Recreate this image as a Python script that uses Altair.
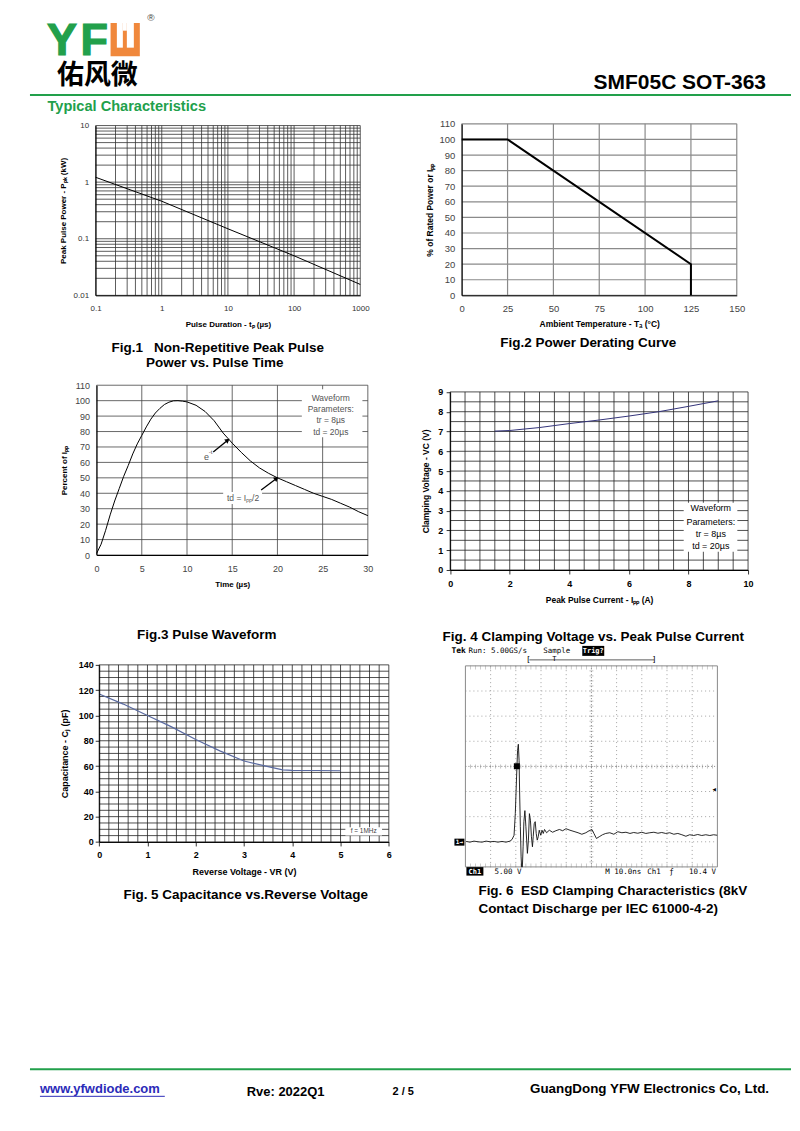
import altair as alt
import pandas as pd

FONT = "Liberation Sans"
CJK = "Noto Sans CJK SC"
MONO = "DejaVu Sans Mono"
GREEN = "#22a04b"
ORANGE = "#f0883c"
W, H = 784, 1115

# ---------------- Fig.1 data ----------------
f1_tp = [0.1, 1, 10, 100, 1000]
f1_ppk = [1.22, 0.46, 0.15, 0.05, 0.0156]
f1_x_grid = [round(m * 10.0 ** e, 6) for e in range(-1, 3) for m in range(1, 10)] + [1000]
f1_y_grid = [round(m * 10.0 ** e, 6) for e in range(-2, 1) for m in range(1, 10)] + [10]
f1_x_labels = [0.1, 1, 10, 100, 1000]
f1_y_labels = [0.01, 0.1, 1, 10]

# ---------------- Fig.2 data ----------------
f2_ta = [0, 25, 125, 125]
f2_pct = [100, 100, 20, 0]
f2_x_ticks = [0, 25, 50, 75, 100, 125, 150]
f2_y_ticks = [0, 10, 20, 30, 40, 50, 60, 70, 80, 90, 100, 110]

# ---------------- Fig.3 data ----------------
f3_t = [0, 0.5, 1, 1.5, 2, 2.5, 3, 3.5, 4, 4.5, 5, 5.5, 6, 6.5, 7, 7.5, 8, 8.5, 9, 9.5, 10,
        11, 12, 13, 14, 15, 16, 17, 18, 19, 20, 21, 22, 23, 24, 25, 26, 27, 28, 29, 30]
f3_pct = [1, 7, 16, 26, 35, 43, 51, 58, 65.5, 72, 77.5, 83, 88, 92, 95, 97.5, 99, 99.9, 100, 99.7, 99.2,
          97, 93, 87, 79, 72.5, 66.5, 61, 56.5, 53, 50, 47.5, 45, 42.5, 40, 38, 36, 33.5, 31, 28, 25.5]
f3_x_ticks = [0, 5, 10, 15, 20, 25, 30]
f3_y_ticks = [0, 10, 20, 30, 40, 50, 60, 70, 80, 90, 100, 110]
f3_note_text = ["Waveform", "Parameters:", "tr = 8µs", "td = 20µs"]
f3_note_x = [25.9, 25.9, 25.9, 25.9]
f3_note_y = [102, 94.5, 87.2, 79.6]
f3_box = {"x": [22.7, 14.0], "x2": [29.4, 18.3], "y": [76.3, 33.0], "y2": [107.4, 40.8]}
f3_arrow_id = [0, 0, 1, 1]
f3_arrow_t = [12.9, 14.5, 18.2, 19.9]
f3_arrow_p = [66.8, 74.4, 42.1, 49.6]

# ---------------- Fig.4 data ----------------
f4_ipp = [1.5, 2, 3, 4, 4.5, 5, 6, 7, 8, 9]
f4_vc = [7.02, 7.05, 7.2, 7.4, 7.49, 7.58, 7.78, 8.0, 8.27, 8.55]
f4_x_grid = [i * 0.5 for i in range(21)]
f4_y_grid = [i * 0.5 for i in range(19)]
f4_x_labels = [0, 2, 4, 6, 8, 10]
f4_y_labels = [0, 1, 2, 3, 4, 5, 6, 7, 8, 9]
f4_note_text = ["Waveform", "Parameters:", "tr = 8µs", "td = 20µs"]
f4_note_x = [8.75, 8.75, 8.75, 8.75]
f4_note_y = [3.13, 2.44, 1.8, 1.23]
f4_box = {"x": [7.84], "x2": [9.64], "y": [0.92], "y2": [3.4]}

# ---------------- Fig.5 data ----------------
f5_vr = [0, 0.5, 1, 1.5, 2, 2.5, 3, 3.5, 3.8, 4, 4.5, 5]
f5_cj = [117, 109, 100, 91, 81, 72, 64, 59.5, 57, 56.6, 56.5, 56.3]
f5_x_grid = [round(i * 0.2, 1) for i in range(31)]
f5_y_grid = [i * 5 for i in range(29)]
f5_x_labels = [0, 1, 2, 3, 4, 5, 6]
f5_y_labels = [0, 20, 40, 60, 80, 100, 120, 140]
f5_box = {"x": [5.1], "x2": [5.86], "y": [5.0], "y2": [11.6]}
f5_note_x = [5.48]
f5_note_y = [8.3]

# ---------------- Fig.6 data (scope: ns, V) ----------------
f6_t = [0.3, 1.8, 3.4, 5.0, 6.6, 8.2, 9.8, 11.4, 12.9, 14.5, 16.1, 17.7, 18.5, 19.3, 19.8, 20.3, 20.7,
        21.0, 21.3, 21.5, 21.8, 22.1, 22.3, 22.6, 22.9, 23.2, 23.6, 24.0, 24.6, 25.0, 25.4, 25.8, 26.2,
        26.6, 26.9, 27.3, 27.7, 28.1, 28.5, 28.9, 29.3, 29.9, 30.4, 30.9, 31.4, 32.2, 33.3, 34.6, 35.9,
        37.3, 38.6, 39.9, 41.5, 43.1, 44.7, 46.2, 47.8, 49.1, 50.2, 51.0, 52.0, 53.1, 54.4, 55.7, 57.3,
        58.9, 60.5, 62.1, 63.7, 65.3, 66.8, 68.4, 70.0, 71.6, 73.2, 74.8, 76.4, 77.9, 79.5, 81.1, 82.7,
        84.3, 85.9, 87.5, 89.0, 90.6, 92.2, 93.8, 95.4, 97.0, 98.5, 99.9]
f6_v = [0.07, -0.07, 0.13, 0.0, -0.07, 0.13, 0.0, 0.07, -0.07, 0.07, -0.07, 0.13, 0.46, 1.3, 5.6, 12.9, 18.2,
        19.4, 16.2, 10.3, 3.0, -3.0, -6.3, -5.6, -1.0, 4.0, 6.2, 3.0, -2.3, 0.33, 5.6, 4.3, 1.0,
        -1.0, 1.0, 3.6, 4.0, 1.66, 0.33, 1.0, 2.3, 1.3, 2.3, 1.66, 2.45, 1.8, 2.3, 1.9, 2.2,
        2.45, 2.2, 2.6, 2.3, 2.05, 1.8, 1.5, 1.8, 2.2, 2.45, 1.66, 0.66, 1.0, 1.4, 1.66, 1.8,
        1.5, 2.0, 1.8, 1.9, 1.66, 1.85, 1.7, 1.9, 1.66, 1.8, 1.9, 1.7, 1.85, 1.66, 1.8, 1.5,
        1.66, 1.4, 1.1, 1.4, 1.25, 1.45, 1.25, 1.4, 1.25, 1.4, 1.3]
f6_grid_t = [10, 20, 30, 40, 60, 70, 80, 90]
f6_grid_v = [0, 5, 10, 20, 25, 30]
f6_frame_t = [0, 100]
f6_frame_v = [-5, 35]
f6_center_t = [50]
f6_center_v = [15]
f6_minor_t = [i * 2 for i in range(1, 50)]
f6_minor_v = [i - 5 for i in range(1, 40)]

ONE = pd.DataFrame({"k": [0]})


# ---------------- helpers ----------------
def txt(text, x, y, size, weight="normal", color="black", align="left", baseline="middle", font=FONT,
        stroke=None):
    kw = dict(text=text, fontSize=size, fontWeight=weight, color=color, align=align,
              baseline=baseline, font=font)
    if stroke:
        kw.update(stroke=color, strokeWidth=stroke)
    return alt.Chart(ONE).mark_text(**kw).encode(x=alt.value(x), y=alt.value(y))


def prect(x, x2, y, y2, color):
    return alt.Chart(ONE).mark_rect(color=color).encode(
        x=alt.value(x), x2=alt.value(x2), y=alt.value(y), y2=alt.value(y2))


def prule(x, x2, y, color, width):
    return alt.Chart(ONE).mark_rule(color=color, strokeWidth=width).encode(
        x=alt.value(x), x2=alt.value(x2), y=alt.value(y))


def caption(text, x, y, align="center"):
    return txt(text, x, y, 13.5, weight="bold", align=align)


def mk_axis(orient, offset, title, values, label_size=9, label_color="#333", label_weight="normal",
            title_size=8, label_pad=8, title_pad=6, ticks=False, expr=None):
    kw = dict(orient=orient, offset=offset, values=values, grid=False, domainColor="black",
              domainWidth=1, labelFontSize=label_size, labelColor=label_color,
              labelFontWeight=label_weight, labelPadding=label_pad, labelOverlap=False,
              labelFlush=False, labelBound=False, title=title, titleFontSize=title_size,
              titleFontWeight="bold", titleColor="black", titlePadding=title_pad,
              labelFont=FONT, titleFont=FONT, zindex=2)
    if expr:
        kw["labelExpr"] = expr
    if ticks:
        kw.update(ticks=True, tickSize=4, tickColor="black", tickWidth=0.8)
    else:
        kw.update(ticks=False, tickSize=0)
    return alt.Axis(**kw)


def grid_layers(X, Y, xs, ys, xlo, xhi, ylo, yhi, color, width):
    v = alt.Chart(pd.DataFrame({"x": xs, "y": [ylo] * len(xs), "y2": [yhi] * len(xs)})).mark_rule(
        color=color, strokeWidth=width).encode(x=X, y=Y, y2="y2:Q")
    h = alt.Chart(pd.DataFrame({"y": ys, "x": [xlo] * len(ys), "x2": [xhi] * len(ys)})).mark_rule(
        color=color, strokeWidth=width).encode(y=Y, x=X, x2="x2:Q")
    return [v, h]


# ---------------- page header / footer ----------------
header_layers = [
    txt("Y", 54, 46.2, 45, weight="bold", color=GREEN, align="center", baseline="alphabetic", stroke=1.2),
    txt("F", 72.5, 46.2, 45, weight="bold", color=GREEN, baseline="alphabetic", stroke=1.2),
    prect(102.7, 132, 14.3, 47.7, ORANGE),
    prect(109, 115, 14.3, 39, "white"),
    prect(119, 126, 14.3, 39, "white"),
    prect(115, 119, 14.3, 22, "white"),
    txt("®", 143, 9, 10, color="#444", align="center"),
    txt("佑风微", 89.5, 67.5, 27, weight="bold", align="center", font=CJK),
    prule(22, 784, 86.5, GREEN, 2),
    txt("SMF05C SOT-363", 759, 80.3, 21, weight="bold", align="right", baseline="alphabetic"),
    txt("Typical Characteristics", 39.5, 98.7, 14.6, weight="bold", color=GREEN),
    prule(22, 784, 1062, GREEN, 2),
    txt("www.yfwdiode.com", 32, 1082, 13, weight="bold", color="#2b2bb8"),
    prule(32, 157, 1089, "#2b2bb8", 1),
    txt("Rve: 2022Q1", 239, 1085, 13, weight="bold"),
    txt("2 / 5", 385, 1085, 11, weight="bold"),
    txt("GuangDong YFW Electronics Co, Ltd.", 762, 1082, 13.4, weight="bold", align="right"),
]

# ---------------- Fig.1 ----------------
r1x, r1y = [87.7, 352.7], [287, 117]
X1 = alt.X("x:Q", scale=alt.Scale(type="log", domain=[0.1, 1000], range=r1x, nice=False),
           axis=mk_axis("bottom", r1y[0] - H, "Pulse Duration - tₚ (µs)", f1_x_labels, label_size=8,
                        label_pad=9, title_pad=8, expr="'' + datum.value"))
Y1 = alt.Y("y:Q", scale=alt.Scale(type="log", domain=[0.01, 10], range=r1y, nice=False),
           axis=mk_axis("left", -r1x[0], "Peak Pulse Power - Pₚₖ (kW)", f1_y_labels, label_size=8,
                        label_pad=7, title_pad=6, expr="'' + datum.value"))
fig1 = alt.layer(
    *grid_layers(X1, Y1, f1_x_grid, f1_y_grid, 0.1, 1000, 0.01, 10, "#333", 0.8),
    alt.Chart(pd.DataFrame({"x": f1_tp, "y": f1_ppk})).mark_line(color="black", strokeWidth=1).encode(x=X1, y=Y1),
)

# ---------------- Fig.2 ----------------
r2x, r2y = [454.3, 729.7], [287, 115.3]
X2 = alt.X("x:Q", scale=alt.Scale(domain=[0, 150], range=r2x, nice=False, zero=False),
           axis=mk_axis("bottom", r2y[0] - H, "Ambient Temperature - Tₐ (°C)", f2_x_ticks,
                        label_size=9.5, label_color="#444", title_size=8.5, label_pad=8, title_pad=7))
Y2 = alt.Y("y:Q", scale=alt.Scale(domain=[0, 110], range=r2y, nice=False, zero=False),
           axis=mk_axis("left", -r2x[0], "% of Rated Power or Iₚₚ", f2_y_ticks,
                        label_size=9.5, label_color="#444", title_size=8.5, label_pad=7, title_pad=4))
fig2 = alt.layer(
    *grid_layers(X2, Y2, f2_x_ticks, f2_y_ticks, 0, 150, 0, 110, "#8a8a8a", 1.2),
    alt.Chart(pd.DataFrame({"x": f2_ta, "y": f2_pct, "i": list(range(len(f2_ta)))})).mark_line(
        color="black", strokeWidth=2).encode(x=X2, y=Y2, order="i:Q"),
)

# ---------------- Fig.3 ----------------
r3x, r3y = [88.7, 360.3], [547, 377]
X3 = alt.X("x:Q", scale=alt.Scale(domain=[0, 30], range=r3x, nice=False, zero=False),
           axis=mk_axis("bottom", r3y[0] - H, "Time (µs)", f3_x_ticks, label_size=9, label_color="#444",
                        label_pad=9.5, title_pad=7))
Y3 = alt.Y("y:Q", scale=alt.Scale(domain=[0, 110], range=r3y, nice=False, zero=False),
           axis=mk_axis("left", -r3x[0], "Percent of Iₚₚ", f3_y_ticks, label_size=9, label_color="#444",
                        label_pad=7, title_pad=6))
fig3 = alt.layer(
    *grid_layers(X3, Y3, f3_x_ticks, f3_y_ticks, 0, 30, 0, 110, "#444", 0.8),
    alt.Chart(pd.DataFrame({"x": f3_t, "y": f3_pct})).mark_line(color="black", strokeWidth=1).encode(x=X3, y=Y3),
    alt.Chart(pd.DataFrame(f3_box)).mark_rect(color="white").encode(x=X3, x2="x2:Q", y=Y3, y2="y2:Q"),
    alt.Chart(pd.DataFrame({"x": f3_note_x, "y": f3_note_y, "t": f3_note_text})).mark_text(
        fontSize=8.5, color="#555", font=FONT).encode(x=X3, y=Y3, text="t:N"),
    alt.Chart(pd.DataFrame({"x": [12.15], "y": [63.6], "t": ["e"]})).mark_text(
        fontSize=9, color="#555", font=FONT).encode(x=X3, y=Y3, text="t:N"),
    alt.Chart(pd.DataFrame({"x": [12.6], "y": [67.0], "t": ["-t"]})).mark_text(
        fontSize=6, color="#555", font=FONT).encode(x=X3, y=Y3, text="t:N"),
    alt.Chart(pd.DataFrame({"x": [16.2], "y": [36.9], "t": ["td = Iₚₚ/2"]})).mark_text(
        fontSize=8.5, color="#555", font=FONT).encode(x=X3, y=Y3, text="t:N"),
    alt.Chart(pd.DataFrame({"x": f3_arrow_t, "y": f3_arrow_p, "a": f3_arrow_id})).mark_line(
        color="black", strokeWidth=1.3).encode(x=X3, y=Y3, detail="a:N"),
    alt.Chart(pd.DataFrame({"x": [f3_arrow_t[1], f3_arrow_t[3]], "y": [f3_arrow_p[1], f3_arrow_p[3]]})).mark_point(
        shape="triangle-up", filled=True, size=28, angle=52, color="black", opacity=1).encode(x=X3, y=Y3),
)

# ---------------- Fig.4 ----------------
r4x, r4y = [442.7, 741], [562, 383.7]
X4 = alt.X("x:Q", scale=alt.Scale(domain=[0, 10], range=r4x, nice=False, zero=False),
           axis=mk_axis("bottom", r4y[0] - H, "Peak Pulse Current - Iₚₚ (A)", f4_x_labels, label_size=9,
                        label_color="black", label_weight="bold", title_size=8.5, label_pad=5.5,
                        title_pad=7.5, ticks=True))
Y4 = alt.Y("y:Q", scale=alt.Scale(domain=[0, 9], range=r4y, nice=False, zero=False),
           axis=mk_axis("left", -r4x[0], "Clamping Voltage - VC (V)", f4_y_labels, label_size=9,
                        label_color="black", label_weight="bold", title_size=8.5, label_pad=3.5,
                        title_pad=7, ticks=True))
fig4 = alt.layer(
    *grid_layers(X4, Y4, f4_x_grid, f4_y_grid, 0, 10, 0, 9, "#222", 0.8),
    alt.Chart(pd.DataFrame({"x": f4_ipp, "y": f4_vc})).mark_line(color="#34347a", strokeWidth=1).encode(x=X4, y=Y4),
    alt.Chart(pd.DataFrame(f4_box)).mark_rect(color="white").encode(x=X4, x2="x2:Q", y=Y4, y2="y2:Q"),
    alt.Chart(pd.DataFrame({"x": f4_note_x, "y": f4_note_y, "t": f4_note_text})).mark_text(
        fontSize=9, color="black", font=FONT).encode(x=X4, y=Y4, text="t:N"),
)

# ---------------- Fig.5 ----------------
r5x, r5y = [91.3, 381.3], [834.3, 657]
X5 = alt.X("x:Q", scale=alt.Scale(domain=[0, 6], range=r5x, nice=False, zero=False),
           axis=mk_axis("bottom", r5y[0] - H, "Reverse Voltage - VR (V)", f5_x_labels, label_size=9,
                        label_color="black", label_weight="bold", title_size=9, label_pad=5,
                        title_pad=8, ticks=True))
Y5 = alt.Y("y:Q", scale=alt.Scale(domain=[0, 140], range=r5y, nice=False, zero=False),
           axis=mk_axis("left", -r5x[0], "Capacitance - Cⱼ (pF)", f5_y_labels, label_size=9,
                        label_color="black", label_weight="bold", title_size=9, label_pad=2,
                        title_pad=8.5, ticks=True))
fig5 = alt.layer(
    *grid_layers(X5, Y5, f5_x_grid, f5_y_grid, 0, 6, 0, 140, "#222", 0.8),
    alt.Chart(pd.DataFrame({"x": f5_vr, "y": f5_cj})).mark_line(color="#5a6aa0", strokeWidth=1.2).encode(x=X5, y=Y5),
    alt.Chart(pd.DataFrame(f5_box)).mark_rect(color="white").encode(x=X5, x2="x2:Q", y=Y5, y2="y2:Q"),
    alt.Chart(pd.DataFrame({"x": f5_note_x, "y": f5_note_y, "t": ["f = 1MHz"]})).mark_text(
        fontSize=6.5, color="#444", font=FONT).encode(x=X5, y=Y5, text="t:N"),
)

# ---------------- Fig.6 (oscilloscope) ----------------
r6x, r6y = [458, 710.3], [859.3, 658]
X6 = alt.X("x:Q", scale=alt.Scale(domain=[0, 100], range=r6x, nice=False, zero=False), axis=None)
Y6 = alt.Y("y:Q", scale=alt.Scale(domain=[-5, 35], range=r6y, nice=False, zero=False, clamp=True), axis=None)


def vrules(xs, color, width, dash=None):
    kw = dict(color=color, strokeWidth=width)
    if dash:
        kw["strokeDash"] = dash
    return alt.Chart(pd.DataFrame({"x": xs, "y": [-5] * len(xs), "y2": [35] * len(xs)})).mark_rule(
        **kw).encode(x=X6, y=Y6, y2="y2:Q")


def hrules(ys, color, width, dash=None):
    kw = dict(color=color, strokeWidth=width)
    if dash:
        kw["strokeDash"] = dash
    return alt.Chart(pd.DataFrame({"y": ys, "x": [0] * len(ys), "x2": [100] * len(ys)})).mark_rule(
        **kw).encode(y=Y6, x=X6, x2="x2:Q")


fig6 = alt.layer(
    vrules(f6_grid_t, "#9a9a9a", 0.9, [1, 3]),
    hrules(f6_grid_v, "#9a9a9a", 0.9, [1, 3]),
    vrules(f6_center_t, "#777", 0.9, [1, 2]),
    hrules(f6_center_v, "#777", 0.9, [1, 2]),
    alt.Chart(pd.DataFrame({"x": f6_minor_t, "y": [15] * len(f6_minor_t)})).mark_tick(
        orient="vertical", size=4, thickness=0.7, color="#888").encode(x=X6, y=Y6),
    alt.Chart(pd.DataFrame({"x": [50] * len(f6_minor_v), "y": f6_minor_v})).mark_tick(
        orient="horizontal", size=4, thickness=0.7, color="#888").encode(x=X6, y=Y6),
    alt.Chart(pd.DataFrame({"x": f6_minor_t, "y": [34.7] * len(f6_minor_t)})).mark_tick(
        orient="vertical", size=4, thickness=0.7, color="#999").encode(x=X6, y=Y6),
    alt.Chart(pd.DataFrame({"x": f6_minor_t, "y": [-4.7] * len(f6_minor_t)})).mark_tick(
        orient="vertical", size=4, thickness=0.7, color="#999").encode(x=X6, y=Y6),
    vrules(f6_frame_t, "#8a8a8a", 1),
    hrules(f6_frame_v, "#8a8a8a", 1),
    alt.Chart(pd.DataFrame({"x": f6_t, "y": f6_v})).mark_line(color="#111", strokeWidth=0.9).encode(x=X6, y=Y6),
)

scope_chrome = [
    txt("Tek", 444, 643, 8, weight="bold", font=MONO),
    txt("Run: 5.00GS/s", 461, 643, 7.5, font=MONO),
    txt("Sample", 536, 643, 7.5, font=MONO),
    prect(575, 597, 638, 648, "black"),
    txt("Trig?", 586, 643, 7, weight="bold", color="white", align="center", font=MONO),
    prule(522, 647, 652, "#333", 0.8),
    txt("[", 521, 652, 8, align="center", font=MONO),
    txt("]", 647, 652, 8, align="center", font=MONO),
    txt("T", 547, 651, 7, align="center", font=MONO),
    prect(459, 476, 859.5, 868, "black"),
    txt("Ch1", 467.5, 864, 7, weight="bold", color="white", align="center", font=MONO),
    txt("5.00 V", 487, 864, 7.5, font=MONO),
    txt("M 10.0ns", 598, 864, 7.5, font=MONO),
    txt("Ch1", 640, 864, 7.5, font=MONO),
    txt("ƒ", 662, 864, 7.5, font=MONO),
    txt("10.4 V", 709, 864, 7.5, align="right", font=MONO),
    prect(447, 457, 831, 838, "black"),
    txt("1→", 452, 834.5, 6, weight="bold", color="white", align="center", font=MONO),
    prect(506.5, 512.5, 755.5, 761.5, "black"),
    txt("◂", 707, 781.3, 9, align="center", font=MONO),
]

captions = [
    caption("Fig.1\u00a0\u00a0\u00a0Non-Repetitive Peak Pulse", 210, 339.7),
    caption("Power vs. Pulse Time", 207, 355),
    caption("Fig.2 Power Derating Curve", 581, 335),
    caption("Fig.3 Pulse Waveform", 199, 627),
    caption("Fig. 4 Clamping Voltage vs. Peak Pulse Current", 586, 629),
    caption("Fig. 5 Capacitance vs.Reverse Voltage", 238, 887),
    caption("Fig. 6\u00a0 ESD Clamping Characteristics (8kV", 471, 883.5, align="left"),
    caption("Contact Discharge per IEC 61000-4-2)", 471, 901, align="left"),
]

chart = alt.layer(
    fig1, fig2, fig3, fig4, fig5, fig6, *header_layers, *scope_chrome, *captions
).resolve_scale(x="independent", y="independent").resolve_axis(x="independent", y="independent").properties(
    width=W, height=H, padding=0, background="white"
).configure(font=FONT).configure_view(stroke=None)

chart.save("out.html", embed_options={"renderer": "svg", "actions": False})
